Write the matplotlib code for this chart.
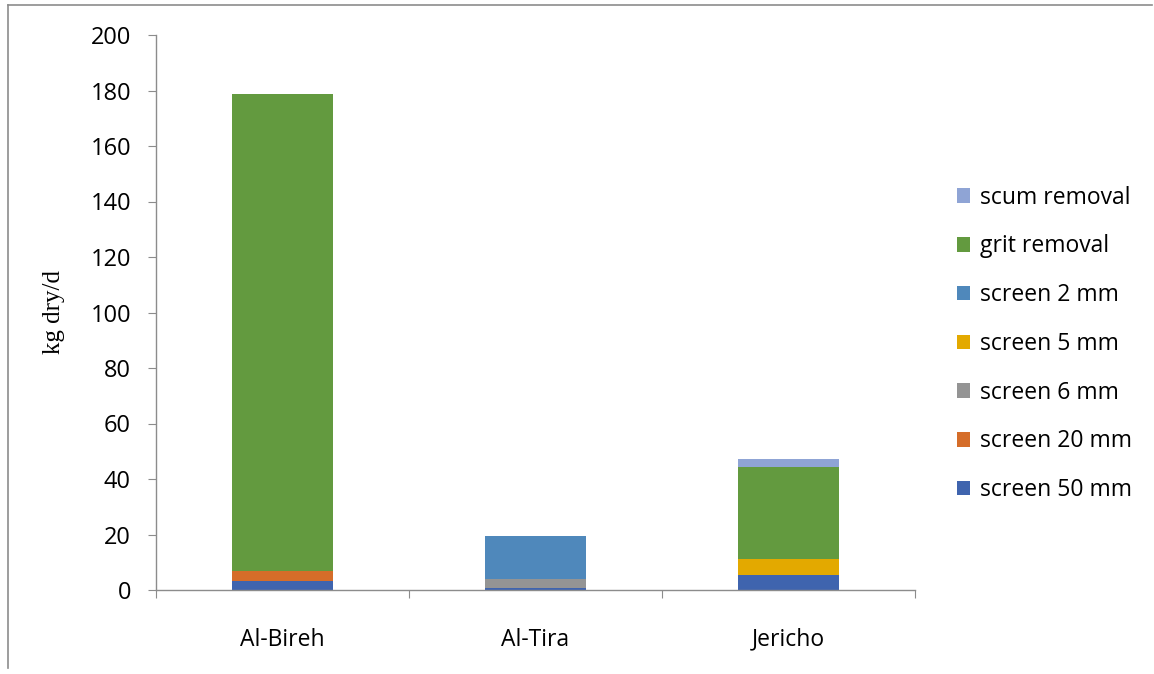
import numpy as np
import matplotlib.pyplot as plt
from matplotlib.patches import Patch
from matplotlib.lines import Line2D

plants = ['Al-Bireh', 'Al-Tira', 'Jericho']

screen_50 = [3.3, 0.8, 5.4]
screen_20 = [3.5, 0.0, 0.0]
screen_6 = [0.0, 3.1, 0.0]
screen_5 = [0.0, 0.0, 5.8]
screen_2 = [0.0, 15.6, 0.0]
grit = [171.9, 0.0, 33.3]
scum = [0.0, 0.0, 2.8]

series = [
    ('screen 50 mm', screen_50, '#3F64AE'),
    ('screen 20 mm', screen_20, '#D56D29'),
    ('screen 6 mm', screen_6, '#949494'),
    ('screen 5 mm', screen_5, '#E3A900'),
    ('screen 2 mm', screen_2, '#4F88BB'),
    ('grit removal', grit, '#639A3F'),
    ('scum removal', scum, '#8FA4D5'),
]

fig = plt.figure(figsize=(11.54, 6.74), dpi=100)
ax = fig.add_axes([156 / 1154, 1 - 590 / 674, (915 - 156) / 1154, (590 - 35) / 674])

x = np.arange(len(plants))
bottom = np.zeros(len(plants))
for name, vals, col in series:
    vals = np.array(vals)
    ax.bar(x, vals, width=0.4, bottom=bottom, color=col, label=name,
           edgecolor='none', zorder=2)
    bottom += vals

ax.set_xlim(-0.5, 2.5)
ax.set_ylim(0, 200)
ax.set_yticks(np.arange(0, 201, 20))
ax.set_xticks([-0.5, 0.5, 1.5, 2.5], minor=False)
ax.set_xticklabels([])
ax.set_xticks(x, minor=True)
ax.set_xticklabels(plants, minor=True)
ax.tick_params(axis='x', which='major', length=6, color='#8c8c8c', direction='out')
ax.tick_params(axis='x', which='minor', length=0, pad=27, labelsize=16.5)
ax.tick_params(axis='y', length=6, color='#8c8c8c', labelsize=17, pad=12)
for lbl in ax.get_xticklabels(minor=True) + ax.get_yticklabels():
    lbl.set_fontfamily('Open Sans')

for side in ('top', 'right'):
    ax.spines[side].set_visible(False)
for side in ('left', 'bottom'):
    ax.spines[side].set_color('#8c8c8c')
    ax.spines[side].set_linewidth(1.0)

ax.set_ylabel('kg dry/d', fontfamily='Liberation Serif', fontsize=18, labelpad=18)

handles = [Patch(facecolor=col, edgecolor='none', label=name)
           for name, _, col in series[::-1]]
fig.legend(handles=handles, loc='upper left', bbox_to_anchor=(936 / 1154, 1 - 165 / 674),
           frameon=False, prop={'family': 'Open Sans', 'size': 16.5},
           handlelength=0.6, handleheight=0.6, handletextpad=0.4, labelspacing=1.08)

# outer frame (left and top edges)
fig.add_artist(Line2D([8 / 1154, 8 / 1154], [1 - 668 / 674, 1 - 5 / 674],
                      color='#8c8c8c', linewidth=1.2, transform=fig.transFigure))
fig.add_artist(Line2D([8 / 1154, 1152 / 1154], [1 - 5 / 674, 1 - 5 / 674],
                      color='#8c8c8c', linewidth=1.2, transform=fig.transFigure))

fig.savefig('out.png', dpi=100)
